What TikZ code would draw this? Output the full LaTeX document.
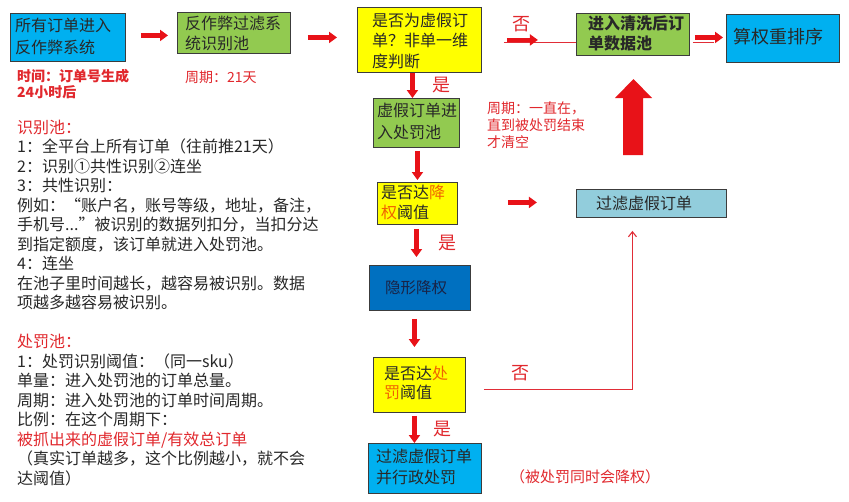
\documentclass[tikz,border=0pt]{standalone}
\usepackage{fontspec}
\setmainfont{Noto Sans CJK SC}
\usetikzlibrary{arrows.meta}
\definecolor{boxblue}{RGB}{0,176,240}
\definecolor{boxgreen}{RGB}{146,202,80}
\definecolor{boxyellow}{RGB}{255,255,0}
\definecolor{boxdblue}{RGB}{0,112,192}
\definecolor{boxlblue}{RGB}{146,205,220}
\definecolor{boxline}{RGB}{60,60,60}
\definecolor{arrowred}{RGB}{232,18,24}
\definecolor{linered}{RGB}{225,45,55}
\definecolor{labelred}{RGB}{225,40,45}
\definecolor{textdark}{RGB}{40,40,40}
\definecolor{navytext}{RGB}{25,35,70}
\definecolor{hiorange}{RGB}{240,100,0}
\begin{document}
\begin{tikzpicture}[x=1pt,y=-1pt,
  box/.style={draw=boxline, line width=0.9pt, inner sep=0pt, anchor=north west},
  tx/.style={anchor=west, align=left, inner sep=0pt, text=textdark, font=\fontsize{16}{#1}\selectfont},
  tx/.default=20,
  fat/.style={draw=arrowred, line width=4.5pt, -{Triangle[length=8pt,width=11pt]}},
  thinline/.style={draw=linered, line width=1.1pt},
  thinarrow/.style={thinline, -{Straight Barb[length=5pt,width=8pt]}},
  lab/.style={inner sep=0pt, text=labelred, font=\fontsize{18}{18}\selectfont},
  note/.style={anchor=west, align=left, inner sep=0pt, text=labelred},
  para/.style={anchor=base west, inner sep=0pt, text=textdark, font=\fontsize{16}{19.5}\selectfont}
]
\fill[white] (0,0) rectangle (849,501);
\useasboundingbox (0,0) rectangle (849,501);

% boxes
\node[box, fill=boxblue, minimum width=115, minimum height=48] (b1) at (10,13) {};
\node[tx=22] (t1) at (15,36) {所有订单进入\\反作弊系统};
\node[box, fill=boxgreen, minimum width=113, minimum height=41] (b2) at (177,12) {};
\node[tx=20] (t2) at (185,33) {反作弊过滤系\\统识别池};
\node[box, fill=boxyellow, minimum width=124, minimum height=65] (b3) at (357,7) {};
\node[tx=20.5] (t3) at (372,40.5) {是否为虚假订\\单？非单一维\\度判断};
\node[box, fill=boxgreen, minimum width=113, minimum height=42] (b4) at (576,13) {};
\node[tx, font=\fontsize{16}{20}\selectfont\bfseries] (t4) at (588,33) {进入清洗后订\\单数据池};
\node[box, fill=boxblue, minimum width=113, minimum height=48] (b5) at (726,14) {};
\node[tx, font=\fontsize{18}{20}\selectfont] (t5) at (733,37) {算权重排序};
\node[box, fill=boxgreen, minimum width=86, minimum height=49] (b6) at (373,98) {};
\node[tx=22] (t6) at (377,121) {虚假订单进\\入处罚池};
\node[box, fill=boxyellow, minimum width=80, minimum height=42] (b7) at (377,182) {};
\node[tx=20] (t7) at (381,202) {是否达\textcolor{hiorange}{降}\\\textcolor{hiorange}{权}阈值};
\node[box, fill=boxlblue, minimum width=150, minimum height=28] (b8) at (576,189) {};
\node[tx] (t8) at (596,203) {过滤虚假订单};
\node[box, fill=boxdblue, minimum width=101, minimum height=45] (b9) at (369,265) {};
\node[tx, text=navytext, font=\fontsize{15.5}{20}\selectfont] (t9) at (385,287.5) {隐形降权};
\node[box, fill=boxyellow, minimum width=92, minimum height=55] (b10) at (373,357) {};
\node[tx=19] (t10) at (384,382.5) {是否达\textcolor{hiorange}{处}\\\textcolor{hiorange}{罚}阈值};
\node[box, fill=boxblue, minimum width=113, minimum height=50] (b11) at (368,443) {};
\node[tx=21] (t11) at (376,466.5) {过滤虚假订单\\并行政处罚};

% red notes and labels
\node[note, font=\fontsize{14}{15.5}\selectfont\bfseries] (n1) at (17,84) {时间：订单号生成\\24小时后};
\node[note, font=\fontsize{14}{16}\selectfont] (n2) at (185,77) {周期：21天};
\node[lab] (no1) at (521,24) {否};
\node[lab] (yes1) at (441,85) {是};
\node[note, font=\fontsize{14}{17}\selectfont] (n3) at (487,125) {周期：一直在，\\直到被处罚结束\\才清空};
\node[lab] (yes2) at (447,243) {是};
\node[lab] (no2) at (520,373) {否};
\node[lab] (yes3) at (442,429) {是};
\node[note, font=\fontsize{15}{16}\selectfont] (n4) at (510,477) {（被处罚同时会降权）};

% left paragraph
\foreach \n/\t in {
  1/{\textcolor{labelred}{识别池：}},
  2/{1：全平台上所有订单（往前推21天）},
  3/{2：识别①共性识别②连坐},
  4/{3：共性识别：},
  5/{例如：“账户名，账号等级，地址，备注，},
  6/{手机号...”被识别的数据列扣分，当扣分达},
  7/{到指定额度，该订单就进入处罚池。},
  8/{4：连坐},
  9/{在池子里时间越长，越容易被识别。数据},
  10/{项越多越容易被识别。},
  12/{\textcolor{labelred}{处罚池：}},
  13/{1：处罚识别阈值：（同一sku）},
  14/{单量：进入处罚池的订单总量。},
  15/{周期：进入处罚池的订单时间周期。},
  16/{比例：在这个周期下：},
  17/{\textcolor{labelred}{被抓出来的虚假订单/有效总订单}},
  18/{（真实订单越多，这个比例越小，就不会},
  19/{达阈值）}}
  \node[para] (L\n) at (17,{133+19.5*(\n-1)}) {\t};

% connectors
\draw[fat] ([xshift=15pt,yshift=2pt]b1.east) -- ([xshift=-9pt,yshift=2pt]b1.east -| b2.west);
\draw[fat] ([xshift=17pt,yshift=-4.5pt]b2.east) -- ([xshift=-20pt,yshift=-4.5pt]b2.east -| b3.west);
\draw[fat] ([xshift=-7pt]b3.south) -- ([xshift=-7pt]b3.south |- b6.north);
\draw[thinline] ([xshift=22pt,yshift=-2.5pt]b3.east) -- ([yshift=-2.5pt]b3.east -| b4.west);
\draw[fat] ([xshift=25pt]b3.east) -- ([xshift=56pt]b3.east);
\draw[thinline] ([xshift=3pt,yshift=-8pt]b4.east) -- ([xshift=24pt,yshift=-8pt]b4.east);
\draw[fat] ([xshift=5pt,yshift=-3pt]b4.east) -- ([xshift=-3pt,yshift=-3pt]b4.east -| b5.west);
\draw[fat] ([xshift=1pt,yshift=-3pt]b6.south) -- ([xshift=1pt,yshift=2pt]b6.south |- b7.north);
\draw[fat] ([xshift=50pt,yshift=1pt]b7.east) -- ([xshift=79pt,yshift=1pt]b7.east);
\draw[fat] ([xshift=-1pt,yshift=-4pt]b7.south) -- ([xshift=-1pt,yshift=8pt]b7.south |- b9.north);
\draw[fat] ([xshift=-5.5pt,yshift=-8pt]b9.south) -- ([xshift=-5.5pt,yshift=10pt]b9.south |- b10.north);
\draw[fat] ([xshift=-5pt,yshift=-3pt]b10.south) -- ([xshift=-5pt]b10.south |- b11.north);
\draw[thinarrow] ([xshift=18pt,yshift=-4.5pt]b10.east) -| ([xshift=-19pt,yshift=-13pt]b8.south);

% big block arrow
\fill[arrowred] (623,155) -- (643,155) -- (643,98) -- (652,98) -- (633.5,79) -- (615,98) -- (623,98) -- cycle;
\end{tikzpicture}
\end{document}
